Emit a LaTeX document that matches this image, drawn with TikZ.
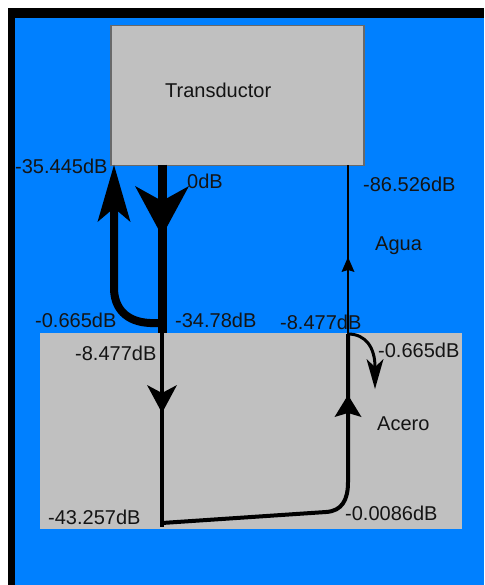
\documentclass[tikz,border=0pt]{standalone}
\usepackage{fontspec}
\setmainfont{Liberation Sans}
\usetikzlibrary{arrows.meta}
\definecolor{bgblue}{RGB}{0,128,255}
\definecolor{boxgray}{RGB}{192,192,192}
\definecolor{edgegray}{RGB}{105,105,105}
\definecolor{txt}{RGB}{20,20,20}
\begin{document}
\begin{tikzpicture}[x=1pt,y=-1pt,
  lbl/.style={anchor=base west, inner sep=0pt, text=txt, font=\fontsize{20}{22}\selectfont},
  bigtip/.style={-{Stealth[length=#1, line width=0pt]}},
  thick line/.style={line width=9pt},
  mid line/.style={line width=4pt},
  thin line/.style={line width=1.8pt}]
\useasboundingbox (0,0) rectangle (484,585);
\fill[white] (0,0) rectangle (484,585);
\fill[black] (8,8) rectangle (484,585);
\fill[bgblue] (15,18) rectangle (484,585);

% boxes
\node[draw=edgegray, line width=1.5pt, fill=boxgray, minimum width=253pt, minimum height=140pt,
      anchor=north west, inner sep=0pt] (trans) at (110,25) {};
\node[fill=boxgray, minimum width=422pt, minimum height=196pt, anchor=north west, inner sep=0pt]
      (acero) at (40,333) {};

% junction coordinates
\coordinate (t0) at (162,165);
\coordinate (j0) at (162,333);
\coordinate (b0) at (162,527);
\coordinate (dtip) at (162,236);
\coordinate (lstart) at (162,323);
\coordinate (ltip) at (114,165);
\coordinate (adtip) at (162,413);
\coordinate (bcorner) at (348,482);
\coordinate (r0) at (348,334);
\coordinate (autip) at (348,395);
\coordinate (r1) at (348,165);
\coordinate (wtip) at (348,257);
\coordinate (ctip) at (375,389);

% thick incident line with arrow
\draw[thick line] (t0) -- (j0);
\draw[thick line, -{Stealth[length=50pt, width=54pt, inset=15pt, line width=0pt]}] (t0) -- (dtip);

% reflected loop back to transducer
\draw[line width=8pt] (lstart) -- (150,323) .. controls (126,322) and (114,308) .. (114,288) -- (114,200);
\draw[line width=8pt, -{Stealth[length=57pt, width=33pt, inset=14pt, line width=0pt]}] (114,240) -- (ltip);

% transmitted into steel
\draw[mid line] (j0) -- (b0);
\draw[mid line, -{Stealth[length=28pt, width=30pt, inset=8pt, line width=0pt]}] (j0) -- (adtip);

% reflected at bottom, back up
\draw[mid line] (162,523) -- (326,512) .. controls (342,511) and (348,500) .. (bcorner) -- (r0);
\draw[mid line, -{Stealth[length=22pt, width=27pt, inset=4pt, line width=0pt]}] (bcorner) -- (autip);

% transmitted into water
\draw[thin line] (r0) -- (r1);
\draw[thin line, -{Stealth[length=15pt, width=13pt, inset=2pt, line width=0pt]}] (r0) -- (wtip);

% small reflected curve
\draw[line width=3pt, -{Stealth[length=30pt, width=17pt, inset=8pt, line width=0pt]}]
  (r0) .. controls (366,334) and (375,348) .. (ctip);

% labels
\node[lbl] (ltrans) at (165,98) {Transductor};
\node[lbl] (l1) at (15,174) {-35.445dB};
\node[lbl] (l2) at (187,189) {0dB};
\node[lbl] (l3) at (363,192) {-86.526dB};
\node[lbl] (l4) at (375,250) {Agua};
\node[lbl] (l5) at (35,327) {-0.665dB};
\node[lbl] (l6) at (175,327) {-34.78dB};
\node[lbl] (l7) at (280,329) {-8.477dB};
\node[lbl] (l8) at (75,360) {-8.477dB};
\node[lbl] (l9) at (378,357) {-0.665dB};
\node[lbl] (l10) at (377,430) {Acero};
\node[lbl] (l11) at (48,524) {-43.257dB};
\node[lbl] (l12) at (345,520) {-0.0086dB};
\end{tikzpicture}
\end{document}
